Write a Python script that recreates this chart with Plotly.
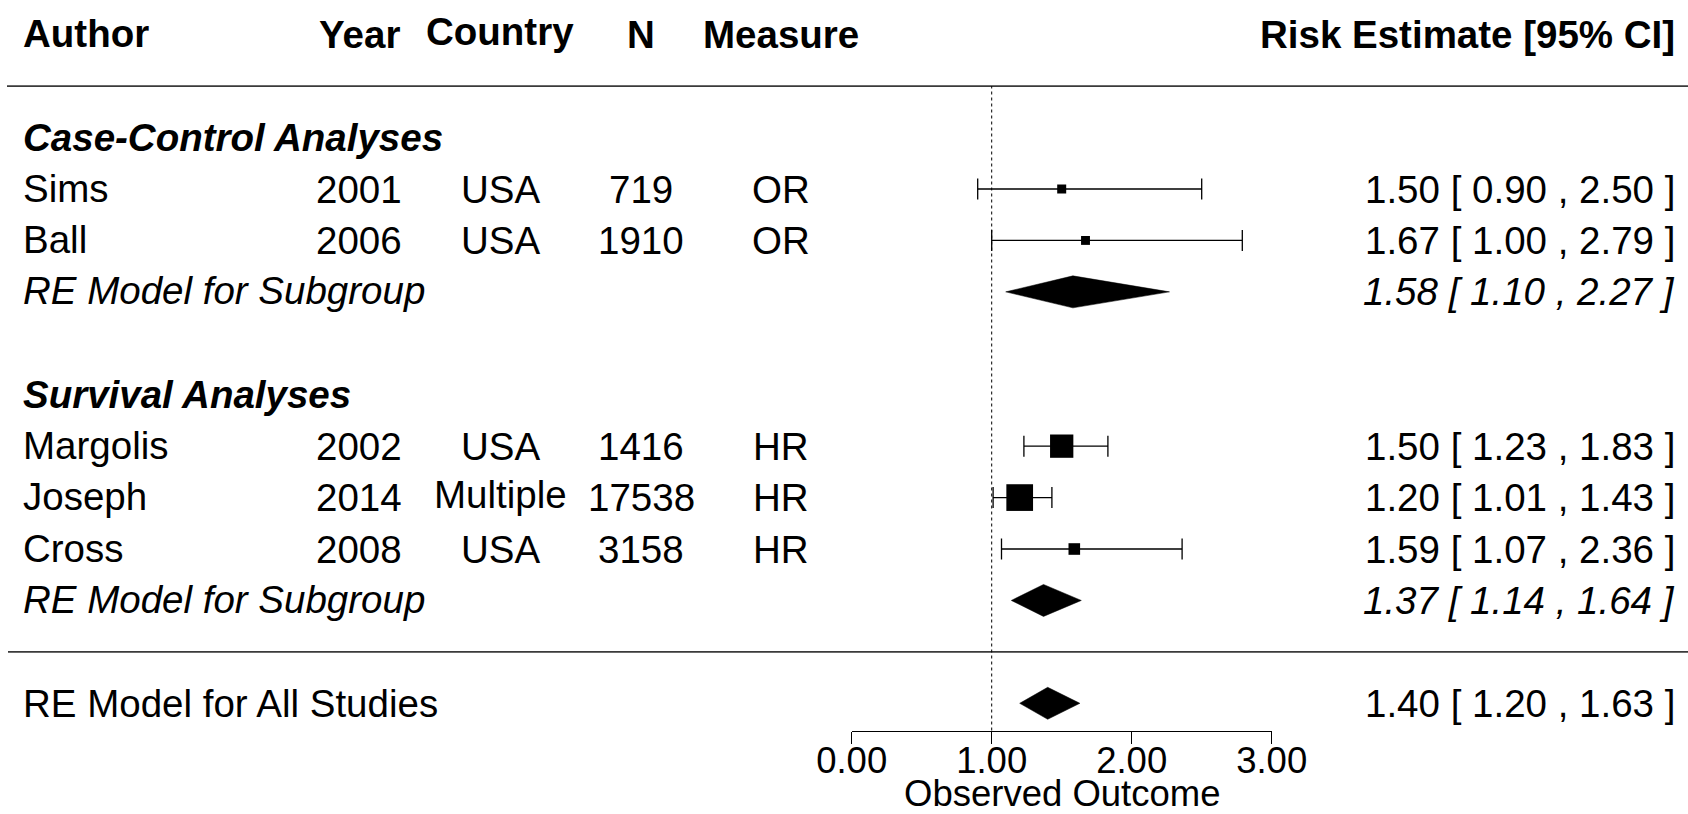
import plotly.graph_objects as go

# ---------------- data ----------------
authors = ["Sims", "Ball", "Margolis", "Joseph", "Cross"]
years = [2001, 2006, 2002, 2014, 2008]
countries = ["USA", "USA", "USA", "Multiple", "USA"]
sample_n = [719, 1910, 1416, 17538, 3158]
measures = ["OR", "OR", "HR", "HR", "HR"]
estimates = [1.50, 1.67, 1.50, 1.20, 1.59]
ci_lower = [0.90, 1.00, 1.23, 1.01, 1.07]
ci_upper = [2.50, 2.79, 1.83, 1.43, 2.36]

subgroup_names = ["Case-Control Analyses", "Survival Analyses"]
subgroup_label = "RE Model for Subgroup"
subgroup_est = [1.58, 1.37]
subgroup_lower = [1.10, 1.14]
subgroup_upper = [2.27, 1.64]

overall_label = "RE Model for All Studies"
overall_est = 1.40
overall_lower = 1.20
overall_upper = 1.63

column_headers = ["Author", "Year", "Country", "N", "Measure"]
estimate_header = "Risk Estimate [95% CI]"
axis_title = "Observed Outcome"
tick_values = [0, 1, 2, 3]
tick_labels = ["0.00", "1.00", "2.00", "3.00"]
reference_value = 1.0

# ---------------- layout / style ----------------
W, H = 1688, 814
X0_PX, X_UNIT = 851.7, 140.0          # pixel of x=0, pixels per unit
ROW1_PX, ROW_UNIT = 703.3, 51.43      # pixel of row 1, pixels per row
AXIS_PX = 730.5

study_rows = [11, 10, 6, 5, 4]
subgroup_header_rows = [12, 7]
subgroup_model_rows = [9, 3]
overall_row = 1
header_row = 14
top_rule_row = 13
bottom_rule_row = 2
axis_row = 1 - (AXIS_PX - ROW1_PX) / ROW_UNIT

square_px = [9.0, 8.9, 23.3, 26.7, 11.6]
diamond_half = 16.0 / ROW_UNIT

FONT = "Liberation Sans, Arial, Helvetica, sans-serif"
FS = 38.5

col_author_px = 21
col_centers_px = [None, 359, 500, 641, 781]
col_est_right_px = 1677

xr = [-X0_PX / X_UNIT, (W - X0_PX) / X_UNIT]
yr = [1 - (H - ROW1_PX) / ROW_UNIT, 1 + ROW1_PX / ROW_UNIT]


def px(p):
    return p / W


def fmt_ci(e, l, u):
    return f"{e:.2f} [ {l:.2f} , {u:.2f} ]"


fig = go.Figure()

# study estimates with CIs
fig.add_trace(go.Scatter(
    x=estimates, y=study_rows, mode="markers",
    marker=dict(symbol="square", size=square_px, color="black", opacity=1,
                line=dict(width=0)),
    error_x=dict(type="data", symmetric=False,
                 array=[u - e for e, u in zip(estimates, ci_upper)],
                 arrayminus=[e - l for e, l in zip(estimates, ci_lower)],
                 color="black", thickness=1.3, width=10.5),
    hoverinfo="skip", showlegend=False, cliponaxis=False,
))

# diamonds (subgroups + overall)
dia_sets = list(zip(subgroup_est, subgroup_lower, subgroup_upper, subgroup_model_rows))
dia_sets.append((overall_est, overall_lower, overall_upper, overall_row))
for e, l, u, r in dia_sets:
    fig.add_trace(go.Scatter(
        x=[l, e, u, e, l],
        y=[r, r + diamond_half, r, r - diamond_half, r],
        mode="lines", fill="toself", fillcolor="black",
        line=dict(color="black", width=0.5),
        hoverinfo="skip", showlegend=False,
    ))

# invisible trace carrying the visible bottom axis
fig.add_trace(go.Scatter(x=[0, 3], y=[0, 0], xaxis="x2", yaxis="y2",
                         mode="markers", marker=dict(opacity=0),
                         hoverinfo="skip", showlegend=False))

shapes = [
    dict(type="line", xref="paper", yref="y", x0=px(7), x1=1,
         y0=top_rule_row, y1=top_rule_row, line=dict(color="#3a3a3a", width=1.6)),
    dict(type="line", xref="paper", yref="y", x0=px(8), x1=1,
         y0=bottom_rule_row, y1=bottom_rule_row, line=dict(color="#3a3a3a", width=1.6)),
    dict(type="line", xref="x", yref="y", x0=reference_value, x1=reference_value,
         y0=axis_row, y1=top_rule_row, line=dict(color="black", width=1, dash="dot")),
]

ann = []


def add_text(text, xp, row, anchor, bold=False, italic=False, yshift=0, size=FS):
    t = text
    if italic:
        t = f"<i>{t}</i>"
    if bold:
        t = f"<b>{t}</b>"
    ann.append(dict(text=t, x=px(xp), xref="paper", y=row, yref="y",
                    xanchor=anchor, yanchor="middle", showarrow=False,
                    yshift=yshift, font=dict(family=FONT, size=size, color="black")))


# headers
add_text(column_headers[0], col_author_px, header_row, "left", bold=True, yshift=1)
for h, c in zip(column_headers[1:], col_centers_px[1:]):
    add_text(h, c, header_row, "center", bold=True, yshift=3 if h == "Country" else 0)
add_text(estimate_header, col_est_right_px, header_row, "right", bold=True)

# subgroup headers
for name, r in zip(subgroup_names, subgroup_header_rows):
    add_text(name, col_author_px, r, "left", bold=True, italic=True)

# study rows
for i, r in enumerate(study_rows):
    add_text(authors[i], col_author_px, r, "left", yshift=1)
    add_text(str(years[i]), col_centers_px[1], r, "center")
    add_text(countries[i], col_centers_px[2], r, "center",
             yshift=3 if countries[i] == "Multiple" else 0)
    add_text(str(sample_n[i]), col_centers_px[3], r, "center")
    add_text(measures[i], col_centers_px[4], r, "center")
    add_text(fmt_ci(estimates[i], ci_lower[i], ci_upper[i]), col_est_right_px, r, "right")

# subgroup model rows
for e, l, u, r in zip(subgroup_est, subgroup_lower, subgroup_upper, subgroup_model_rows):
    add_text(subgroup_label, col_author_px, r, "left", italic=True, yshift=1)
    add_text(fmt_ci(e, l, u), col_est_right_px, r, "right", italic=True)

# overall row
add_text(overall_label, col_author_px, overall_row, "left")
add_text(fmt_ci(overall_est, overall_lower, overall_upper), col_est_right_px, overall_row, "right")

# axis title (placed as text under the axis)
ann.append(dict(text=axis_title, x=px(X0_PX + 1.5 * X_UNIT), xref="paper",
                y=(H - 793) / H, yref="paper", xanchor="center", yanchor="middle",
                showarrow=False, font=dict(family=FONT, size=36.5, color="black")))

fig.update_layout(
    width=W, height=H, margin=dict(l=0, r=0, t=0, b=0, pad=0, autoexpand=False),
    paper_bgcolor="white", plot_bgcolor="rgba(0,0,0,0)",
    showlegend=False, shapes=shapes, annotations=ann,
    xaxis=dict(range=xr, visible=False, domain=[0, 1], fixedrange=True, automargin=False),
    yaxis=dict(range=yr, visible=False, domain=[0, 1], fixedrange=True, automargin=False),
    xaxis2=dict(range=[0, 3], domain=[px(X0_PX), px(X0_PX + 3 * X_UNIT)], anchor="y2",
                showline=True, linecolor="black", linewidth=1,
                ticks="outside", ticklen=12, tickwidth=1, tickcolor="black",
                tickvals=tick_values, ticktext=tick_labels, ticklabelstandoff=-14,
                tickfont=dict(family=FONT, size=36.5, color="black"),
                showgrid=False, zeroline=False, fixedrange=True, automargin=False),
    yaxis2=dict(range=[0, 1], domain=[(H - AXIS_PX) / H, 1], anchor="x2",
                visible=False, fixedrange=True, automargin=False),
)

fig.write_html("out.html", config={"displayModeBar": False},
               post_script="document.body.style.margin='0';document.body.style.overflow='hidden';")
